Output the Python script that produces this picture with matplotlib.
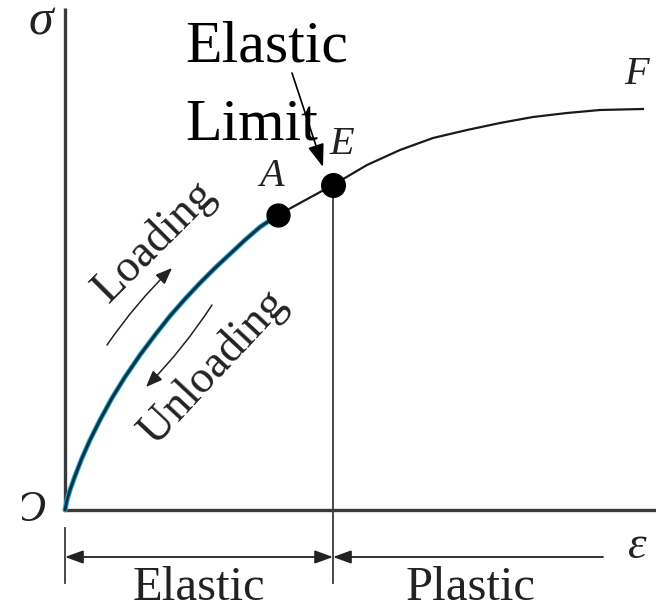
import matplotlib
matplotlib.use("Agg")
import matplotlib.pyplot as plt
from matplotlib.patches import Rectangle

plt.rcParams['font.family'] = ['Liberation Serif', 'DejaVu Serif']

# coordinates: strain to the right of O, stress above O (picture units)
strain_elastic = [0, 2, 5, 10, 17, 25, 35, 47, 60, 75, 90, 105, 120, 135, 150, 165, 180, 195, 213]
stress_elastic = [0, 10, 20, 34, 52, 70, 90, 112, 133, 155, 175, 194, 211, 227, 242, 256, 270, 283, 295]

strain_plastic = [213, 268, 302, 335, 368, 402, 435, 468, 502, 535, 578]
stress_plastic = [295, 325, 345, 360, 372, 380, 387, 393, 397, 400, 401]

point_A = (213, 295)
point_E = (268, 325)
strain_end = 591
stress_top = 502

fig = plt.figure(figsize=(6.56, 6.13), dpi=100)
ax = fig.add_axes([0, 0, 1, 1])
ax.set_xlim(-65, 591)
ax.set_ylim(-103, 510)
ax.axis('off')

axis_col = '#3a3a3a'
# axes
ax.plot([0, 0], [0, stress_top], color=axis_col, lw=2.4, solid_capstyle='butt')
ax.plot([0, strain_end], [0, 0], color=axis_col, lw=2.4, solid_capstyle='butt')

# elastic limit line and extension lines
ax.plot([point_E[0], point_E[0]], [point_E[1], -73], color=axis_col, lw=1.3)
ax.plot([0, 0], [-18, -73], color=axis_col, lw=1.3)

# curve
ax.plot(strain_elastic, stress_elastic, color='#2aa6cf', lw=3.6, solid_capstyle='round')
ax.plot(strain_elastic, stress_elastic, color='#0b3344', lw=2.1, solid_capstyle='round')
ax.plot(strain_plastic, stress_plastic, color='#1a1a1a', lw=1.6)

ax.plot(*point_A, 'o', color='black', ms=16.5, zorder=5)
ax.plot(*point_E, 'o', color='black', ms=17, zorder=5)

# dimension arrows
dim_y = -47
ax.annotate('', xy=(0, dim_y), xytext=(point_E[0], dim_y),
            arrowprops=dict(arrowstyle='<|-|>,head_length=0.55,head_width=0.2',
                            mutation_scale=20, shrinkA=0, shrinkB=0,
                            color='#222222', lw=1.3))
ax.annotate('', xy=(point_E[0], dim_y), xytext=(538, dim_y),
            arrowprops=dict(arrowstyle='-|>,head_length=0.55,head_width=0.2',
                            mutation_scale=20, shrinkA=0, shrinkB=0,
                            color='#222222', lw=1.3))

ax.text(134, -78, 'Elastic', fontsize=35, ha='center', va='center', color='#222222')
ax.text(406, -78, 'Plastic', fontsize=35, ha='center', va='center', color='#222222')

# loading / unloading
ax.annotate('', xy=(107, 242), xytext=(42, 165),
            arrowprops=dict(arrowstyle='-|>,head_length=0.5,head_width=0.2',
                            mutation_scale=20, shrinkA=0, shrinkB=0,
                            connectionstyle='arc3,rad=-0.05', color='#222222', lw=1.1))
ax.annotate('', xy=(81, 123), xytext=(147, 205),
            arrowprops=dict(arrowstyle='-|>,head_length=0.5,head_width=0.2',
                            mutation_scale=20, shrinkA=0, shrinkB=0,
                            connectionstyle='arc3,rad=-0.05', color='#222222', lw=1.1))
ax.text(90, 268, 'Loading', fontsize=33, rotation=45, ha='center', va='center',
        rotation_mode='anchor', color='#222222')
ax.text(148, 143, 'Unloading', fontsize=33, rotation=47, ha='center', va='center',
        rotation_mode='anchor', color='#222222')

# point labels
ax.text(207, 333, 'A', fontsize=29, style='italic', ha='center', va='center', color='#222222')
ax.text(277, 365, 'E', fontsize=29, style='italic', ha='center', va='center', color='#222222')
ax.text(572, 435, 'F', fontsize=29, style='italic', ha='center', va='center', color='#222222')
ax.text(-24, 488, 'σ', fontsize=36, style='italic', ha='center', va='center', color='#222222')
ax.text(572, -37, 'ε', fontsize=34, style='italic', ha='center', va='center', color='#222222')
ax.text(-35, 0, 'O', fontsize=32, style='italic', ha='center', va='center', color='#222222')
# the left part of the O is cut off in the original figure
ax.add_patch(Rectangle((-66, -25), 23, 50, facecolor='white', edgecolor='none', zorder=10))

# elastic limit annotation
ax.text(120, 370, 'Elastic\nLimit', fontsize=43, ha='left', va='baseline',
        linespacing=1.6, color='black')
ax.annotate('', xy=(258, 343), xytext=(227, 437),
            arrowprops=dict(arrowstyle='-|>,head_length=0.7,head_width=0.25',
                            mutation_scale=20, shrinkA=0, shrinkB=0,
                            color='black', lw=1.2))

fig.savefig('out.png', dpi=100)
